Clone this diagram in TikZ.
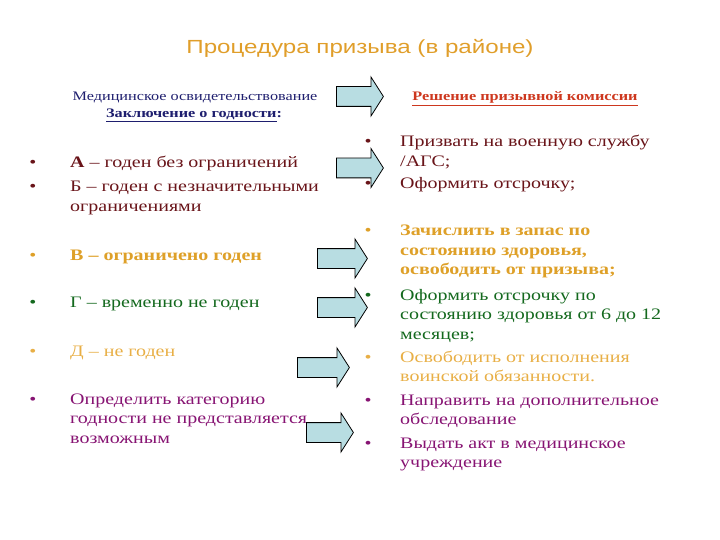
\documentclass[tikz,border=0pt]{standalone}
\usepackage{fontspec}
\setmainfont{Liberation Serif}[FakeStretch=1.25]
\newfontfamily\titlefont{Liberation Sans}[FakeStretch=1.27]
\usetikzlibrary{shapes.arrows,positioning}

\definecolor{titlegold}{RGB}{224,158,42}
\definecolor{headblue}{RGB}{30,30,110}
\definecolor{headred}{RGB}{205,55,30}
\definecolor{maroon}{RGB}{105,20,25}
\definecolor{goldtxt}{RGB}{222,160,40}
\definecolor{greentxt}{RGB}{20,105,30}
\definecolor{lightgold}{RGB}{232,175,70}
\definecolor{purpletxt}{RGB}{135,20,115}
\definecolor{arrowfill}{RGB}{184,221,226}

% lines of one bullet item, first line on the baseline
\newcommand{\itemlines}[1]{\begin{tabular}[t]{@{}l@{}}#1\end{tabular}}

\tikzset{
  item/.style={anchor=base west,inner sep=0pt,
    font=\fontsize{16}{19.5}\selectfont},
  dot/.style={anchor=base,inner sep=0pt,font=\fontsize{16}{19.5}\selectfont},
  head/.style={anchor=base,inner sep=0pt,font=\fontsize{13}{17}\selectfont},
  blockarrow/.style={single arrow,draw=black,fill=arrowfill,line width=0.8pt,
    inner xsep=0pt,inner ysep=9.5pt,minimum width=38pt,
    single arrow head extend=9.5pt,single arrow tip angle=115,anchor=west}
}

\begin{document}
\begin{tikzpicture}[x=1pt,y=-1pt]
  \useasboundingbox (0,0) rectangle (720,540);

  % title
  \node[anchor=base,inner sep=0pt,text=titlegold,font=\titlefont\fontsize{19}{23}\selectfont]
    (title) at (360,54) {Процедура призыва (в районе)};

  % column headings
  \node[head,text=headblue] (medhead) at (195,101) {Медицинское освидетельствование};
  \node[head,text=headblue] (medsub) at (194,118) {\bfseries\underline{Заключение о годности}:};
  \node[head,text=headred] (dechead) at (525,101) {\bfseries\underline{Решение призывной комиссии}};

  % left column: categories
  \node[dot,text=maroon] (bA) at (33,168) {•};
  \node[item,text=maroon] (catA) at (70,168) {\textbf{А} – годен без ограничений};
  \node[dot,text=maroon] (bB) at (33,192) {•};
  \node[item,text=maroon] (catB) at (70,192) {\itemlines{Б – годен с незначительными\\ограничениями}};
  \node[dot,text=goldtxt] (bV) at (33,260) {•};
  \node[item,text=goldtxt,font=\fontsize{16}{19.5}\selectfont\bfseries] (catV) at (70,260) {В – ограничено годен};
  \node[dot,text=greentxt] (bG) at (33,307) {•};
  \node[item,text=greentxt] (catG) at (70,307) {Г – временно не годен};
  \node[dot,text=lightgold] (bD) at (33,356) {•};
  \node[item,text=lightgold] (catD) at (70,356) {Д – не годен};
  \node[dot,text=purpletxt] (bX) at (33,404) {•};
  \node[item,text=purpletxt] (catX) at (70,404) {\itemlines{Определить категорию\\годности не представляется\\возможным}};

  % right column: decisions
  \node[dot,text=maroon] (r1) at (368,147) {•};
  \node[item,text=maroon] (dec1) at (400,147) {\itemlines{Призвать на военную службу\\/АГС;}};
  \node[dot,text=maroon] (r2) at (368,189) {•};
  \node[item,text=maroon] (dec2) at (400,189) {Оформить отсрочку;};
  \node[dot,text=goldtxt] (r3) at (368,236) {•};
  \node[item,text=goldtxt,font=\fontsize{16}{19.5}\selectfont\bfseries] (dec3) at (400,236) {\itemlines{Зачислить в запас по\\состоянию здоровья,\\освободить от призыва;}};
  \node[dot,text=greentxt] (r4) at (368,300) {•};
  \node[item,text=greentxt] (dec4) at (400,300) {\itemlines{Оформить отсрочку по\\состоянию здоровья от 6 до 12\\месяцев;}};
  \node[dot,text=lightgold] (r5) at (368,362) {•};
  \node[item,text=lightgold] (dec5) at (400,362) {\itemlines{Освободить от исполнения\\воинской обязанности.}};
  \node[dot,text=purpletxt] (r6) at (368,405) {•};
  \node[item,text=purpletxt] (dec6) at (400,405) {\itemlines{Направить на дополнительное\\обследование}};
  \node[dot,text=purpletxt] (r7) at (368,448) {•};
  \node[item,text=purpletxt] (dec7) at (400,448) {\itemlines{Выдать акт в медицинское\\учреждение}};

  % block arrows
  \node[blockarrow,minimum height=47pt] (arrHead) at (336,96.5) {};
  \node[blockarrow,minimum height=47pt] (arrAB) at (336,168) {};
  \node[blockarrow,minimum height=50pt] (arrV) at (317,258.5) {};
  \node[blockarrow,minimum height=50pt] (arrG) at (317,307.5) {};
  \node[blockarrow,minimum height=52pt] (arrD) at (297,367.5) {};
  \node[blockarrow,minimum height=47pt] (arrX) at (306,432.5) {};
\end{tikzpicture}
\end{document}
